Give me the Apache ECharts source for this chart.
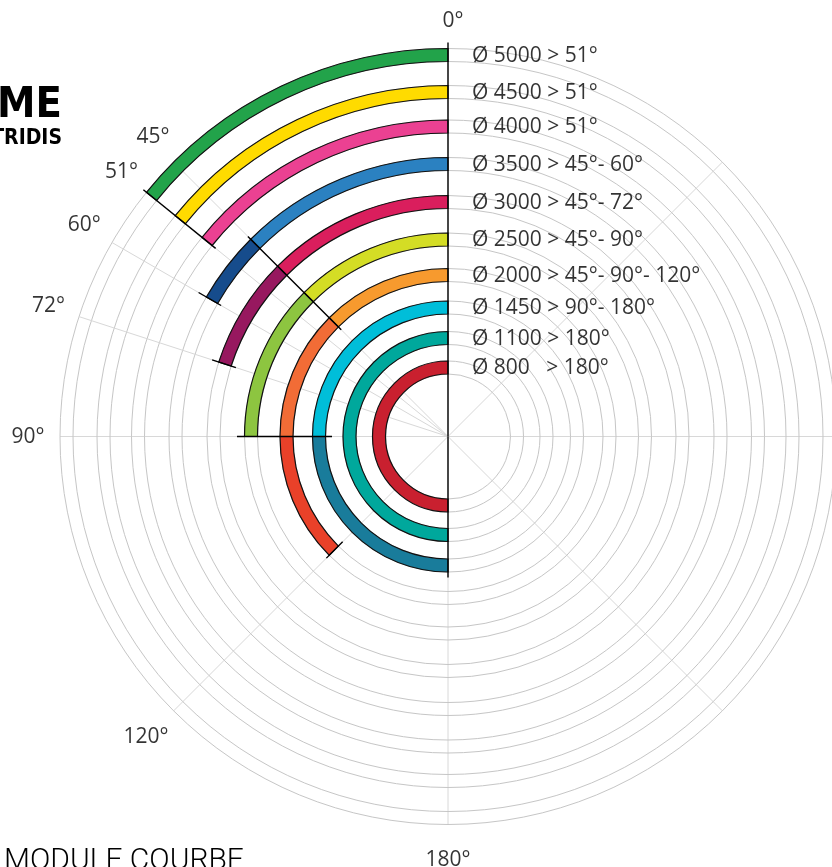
<!DOCTYPE html>
<html><head><meta charset="utf-8">
<script src="https://cdn.jsdelivr.net/npm/echarts@6/dist/echarts.min.js"></script>
<style>html,body{margin:0;padding:0;background:#fff;overflow:hidden}#c{width:832px;height:867px}</style>
</head><body><div id="c"></div>
<script>
// ---- data ----
const ringLabels = ['Ø 5000 > 51°','Ø 4500 > 51°','Ø 4000 > 51°','Ø 3500 > 45°- 60°','Ø 3000 > 45°- 72°','Ø 2500 > 45°- 90°','Ø 2000 > 45°- 90°- 120°','Ø 1450 > 90°- 180°','Ø 1100 > 180°','Ø 800   > 180°'];
const ringRadius = [381.5, 344.5, 310, 272.5, 234.5, 197, 161.5, 129, 98.5, 69];
const ringBreaks = [[0,51],[0,51],[0,51],[0,45,60],[0,45,72],[0,45,90],[0,45,90,135],[0,90,180],[0,180],[0,180]];
const ringColors = [['#22a34a'],['#ffdb00'],['#eb4192'],['#2b81c1','#164c8c'],['#da1e5d','#97185f'],['#d4dd25','#8dc540'],['#f79a2e','#f26c36','#e94129'],['#00bed9','#197c9b'],['#00a89c'],['#c9202f']];
const angleLabelText = ['0°','45°','51°','60°','72°','90°','120°','180°'];
const angleLabelPos = [0, 45, 51, 60, 72, 90, 135, 180];
const extraSpokes = [51, 60, 72];
const dividerAngle = [0, 180, 51, 45, 60, 72, 90, 135];
const dividerFrom  = [0, 0, 299, 151, 262, 223, 116, 149];
const dividerTo    = [394, 141, 392, 283, 288, 248, 211, 172];

// ---- styles ----
const BAND = 13;
const LABEL_R = 420;
const FONT = 'Open Sans';
const angleLabelOffset = [[5, 5], [2, -2], [0, 0], [0, -1], [0, -1], [0, 1], [-5, 4], [0, 4]];

const sectorData = [];
ringRadius.forEach((r, i) => {
  const b = ringBreaks[i];
  for (let k = 0; k < b.length - 1; k++) {
    sectorData.push({ value: [r, b[k], b[k + 1]], itemStyle: { color: ringColors[i][k] } });
  }
});
const circleData = [];
ringRadius.forEach(r => { circleData.push([r - BAND / 2]); circleData.push([r + BAND / 2]); });
const dividerData = dividerAngle.map((a, i) => [a, dividerFrom[i], dividerTo[i]]);
const spokeData = extraSpokes.map(a => [a]);
const angleLabelData = angleLabelPos.map((a, i) => ({ value: [LABEL_R, a], name: angleLabelText[i], label: { offset: angleLabelOffset[i] } }));
const ringLabelData = ringRadius.map((r, i) => ({ value: [r, 0], name: ringLabels[i] }));

function pr(cs, p) { return Math.hypot(p[0] - cs.cx, p[1] - cs.cy); }
function pa(cs, p) { return Math.atan2(p[1] - cs.cy, p[0] - cs.cx); }

const chart = echarts.init(document.getElementById('c'), null, { renderer: 'canvas' });
chart.setOption({
  animation: false,
  backgroundColor: '#fff',
  polar: { center: [448, 436.5], radius: 388 },
  radiusAxis: { type: 'value', min: 0, max: 388, axisLine: { show: false }, axisTick: { show: false }, axisLabel: { show: false }, splitLine: { show: false } },
  angleAxis: { type: 'value', min: 0, max: 360, interval: 45, startAngle: 90, clockwise: false,
    axisLine: { show: false }, axisTick: { show: false }, axisLabel: { show: false },
    splitLine: { show: true, lineStyle: { color: '#d8d8d8', width: 1 } } },
  graphic: [
    { type: 'text', right: 770, top: 84, style: { text: 'ME', font: 'bold 43px "Liberation Sans Narrow", "DejaVu Sans Condensed", Roboto', fill: '#000' } },
    { type: 'text', right: 770, top: 128, style: { text: 'TRIDIS', font: 'bold 21px "Liberation Sans Narrow", "DejaVu Sans Condensed", Roboto', fill: '#000' } },
    { type: 'text', left: 4, top: 846, style: { text: 'MODULE COURBE', font: '300 30px Roboto', fill: '#000' } }
  ],
  series: [
    { type: 'custom', coordinateSystem: 'polar', data: circleData, z: 1, silent: true,
      renderItem: (params, api) => {
        const cs = params.coordSys;
        const r = pr(cs, api.coord([api.value(0), 0]));
        return { type: 'circle', shape: { cx: cs.cx, cy: cs.cy, r: r }, style: { fill: 'none', stroke: '#c6c6c6', lineWidth: 1 } };
      } },
    { type: 'custom', coordinateSystem: 'polar', data: spokeData, z: 1, silent: true,
      renderItem: (params, api) => {
        const p0 = api.coord([0, api.value(0)]);
        const p1 = api.coord([388, api.value(0)]);
        return { type: 'line', shape: { x1: p0[0], y1: p0[1], x2: p1[0], y2: p1[1] }, style: { stroke: '#d8d8d8', lineWidth: 1 } };
      } },
    { type: 'custom', coordinateSystem: 'polar', data: sectorData, z: 3, silent: true,
      renderItem: (params, api) => {
        const cs = params.coordSys;
        const r = api.value(0), a0 = api.value(1), a1 = api.value(2);
        const pIn = api.coord([r - BAND / 2, a0]);
        const pOut = api.coord([r + BAND / 2, a0]);
        const pEnd = api.coord([r, a1]);
        const s = pa(cs, pEnd);
        let e = pa(cs, pIn);
        while (e <= s) e += 2 * Math.PI;
        return { type: 'sector', shape: { cx: cs.cx, cy: cs.cy, r0: pr(cs, pIn), r: pr(cs, pOut), startAngle: s, endAngle: e, clockwise: true },
          style: { fill: api.visual('color'), stroke: '#111', lineWidth: 1.2 } };
      } },
    { type: 'custom', coordinateSystem: 'polar', data: dividerData, z: 4, silent: true,
      renderItem: (params, api) => {
        const p0 = api.coord([api.value(1), api.value(0)]);
        const p1 = api.coord([api.value(2), api.value(0)]);
        return { type: 'line', shape: { x1: p0[0], y1: p0[1], x2: p1[0], y2: p1[1] }, style: { stroke: '#000', lineWidth: 1.4 } };
      } },
    { type: 'scatter', coordinateSystem: 'polar', data: ringLabelData, symbolSize: 0, clip: false, z: 5, silent: true,
      label: { show: true, position: 'right', distance: 24, offset: [0, 1], formatter: p => p.name, fontFamily: FONT, fontSize: 21, fontWeight: 500, color: '#000' } },
    { type: 'scatter', coordinateSystem: 'polar', data: angleLabelData, symbolSize: 0, clip: false, z: 5, silent: true,
      label: { show: true, position: 'inside', formatter: p => p.name, fontFamily: FONT, fontSize: 21, fontWeight: 500, color: '#000' } }
  ]
});
</script></body></html>
